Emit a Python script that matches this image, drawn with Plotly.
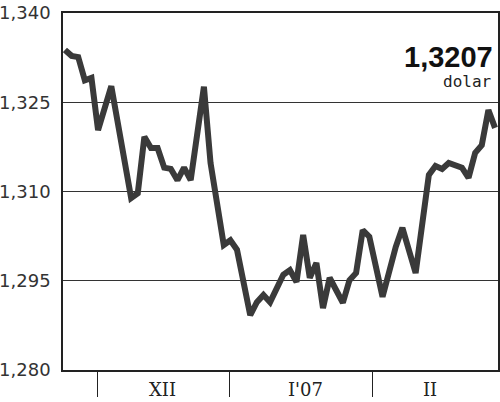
import plotly.graph_objects as go

# trading-day index and EUR/USD rate
day = [0, 1, 2, 3, 4, 5, 7, 10, 11, 12, 13, 14, 15, 16, 17, 18, 19, 21, 22, 24, 25, 26,
       28, 29, 30, 31, 33, 34, 35, 36, 37, 38, 39, 40, 42, 43, 44, 45, 46, 48, 50, 51,
       53, 55, 56, 57, 58, 60, 61, 62, 63, 64, 65]
rate = [1.3338, 1.3328, 1.3326, 1.3287, 1.3291, 1.3203, 1.3277, 1.3089, 1.3097, 1.3192,
        1.3173, 1.3173, 1.3140, 1.3138, 1.3119, 1.3140, 1.3119, 1.3276, 1.3148, 1.3010,
        1.3018, 1.3002, 1.2892, 1.2914, 1.2926, 1.2914, 1.2960, 1.2968, 1.2948, 1.3027,
        1.2955, 1.2980, 1.2904, 1.2955, 1.2913, 1.2951, 1.2963, 1.3035, 1.3024, 1.2923,
        1.3007, 1.3039, 1.2963, 1.3128, 1.3143, 1.3138, 1.3148, 1.3140, 1.3123, 1.3165,
        1.3178, 1.3237, 1.3207]

month_bounds = [4.85, 24.8, 46.55]
month_labels = ["XII", "I'07", "II"]
month_label_pos = [14.7, 36.4, 55.2]

y_ticks = [1.280, 1.295, 1.310, 1.325, 1.340]
y_tick_text = ["1,280", "1,295", "1,310", "1,325", "1,340"]

last_value_text = "1,3207"
unit_text = "dolar"

fig = go.Figure()
fig.add_trace(go.Scatter(
    x=day, y=rate, mode="lines",
    line=dict(color="#3a3a3a", width=6, shape="linear"),
    hoverinfo="skip", showlegend=False,
))

for pos, lab in zip(month_label_pos, month_labels):
    fig.add_annotation(x=pos, xref="x", y=0, yref="paper", yanchor="top", yshift=-7,
                       text=lab, showarrow=False,
                       font=dict(family="DejaVu Serif", size=18, color="#222"))

fig.add_annotation(x=1, xref="paper", xanchor="right", xshift=-3,
                   y=0.877, yref="paper", yanchor="middle",
                   text="<b>" + last_value_text + "</b>", showarrow=False,
                   font=dict(family="Liberation Sans", size=29, color="#111"))
fig.add_annotation(x=1, xref="paper", xanchor="right", xshift=-4,
                   y=0.808, yref="paper", yanchor="middle",
                   text=unit_text, showarrow=False,
                   font=dict(family="DejaVu Sans Mono", size=16, color="#222"))

fig.update_layout(
    width=500, height=402,
    margin=dict(l=63, r=2, t=13, b=32),
    paper_bgcolor="white", plot_bgcolor="white",
    xaxis=dict(range=[-0.3, 65.45], tickvals=month_bounds, ticktext=["", "", ""],
               ticks="outside", ticklen=25, tickwidth=1, tickcolor="#222",
               showgrid=False, zeroline=False, showline=True, linecolor="#222",
               linewidth=1.5, mirror=True, showticklabels=False, automargin=False),
    yaxis=dict(range=[1.280, 1.340], tickvals=y_ticks, ticktext=y_tick_text,
               ticks="", showgrid=True, gridcolor="#333", gridwidth=1,
               zeroline=False, showline=True, linecolor="#222", linewidth=1.5,
               mirror=True, ticklabelstandoff=7, automargin=False,
               tickfont=dict(family="DejaVu Sans", size=18, color="#333")),
)

fig.write_html("out.html", config={"displayModeBar": False},
               post_script="document.body.style.margin='0';document.body.style.overflow='hidden';")
